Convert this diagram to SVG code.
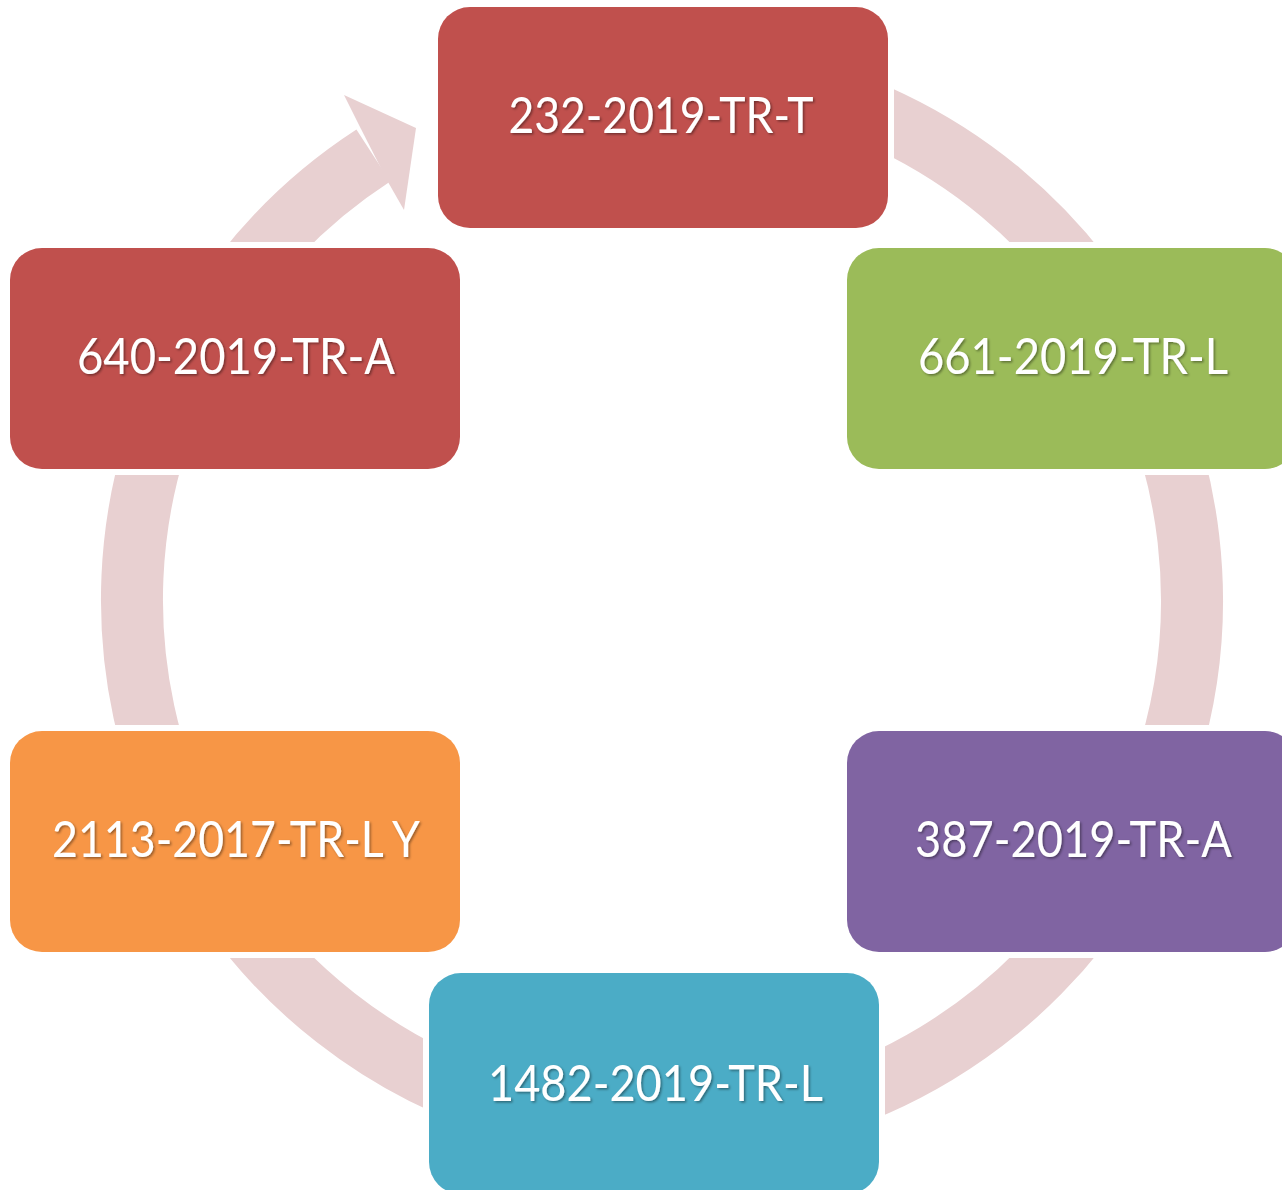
<svg xmlns="http://www.w3.org/2000/svg" width="1282" height="1190" viewBox="0 0 1282 1190">
<style>
.ring{fill:none;stroke:#E8D0D1;stroke-width:62;stroke-linecap:butt}
.head{fill:#E8D0D1}
.box{stroke:#FFFFFF;stroke-width:12;paint-order:stroke}
.lbl{font-family:Lato,"Open Sans","Liberation Sans",sans-serif;font-size:50px;fill:#FFFFFF;text-anchor:middle;filter:url(#sh)}
</style>
<defs>
<filter id="sh" x="-10%" y="-30%" width="120%" height="160%">
<feDropShadow dx="1.5" dy="1.5" stdDeviation="1" flood-color="#000000" flood-opacity="0.4"/>
</filter>
</defs>
<rect width="1282" height="1190" fill="#FFFFFF"/>
<g id="connectors">
<path class="ring" d="M662,70 A530,530 0 1 1 373.3,155.5"/>
<polygon class="head" points="344,95 416,128 404,210 388,182 359,125"/>
</g>
<g id="n1">
<rect class="box" x="438" y="7" width="450" height="221" rx="32" fill="#C0504D"/>
<text class="lbl" x="661" y="133" textLength="305" lengthAdjust="spacingAndGlyphs">232-2019-TR-T</text>
</g>
<g id="n2">
<rect class="box" x="847" y="248" width="450" height="221" rx="32" fill="#9BBB59"/>
<text class="lbl" x="1073" y="374" textLength="310" lengthAdjust="spacingAndGlyphs">661-2019-TR-L</text>
</g>
<g id="n3">
<rect class="box" x="847" y="731" width="450" height="221" rx="32" fill="#8064A2"/>
<text class="lbl" x="1073.5" y="857" textLength="317" lengthAdjust="spacingAndGlyphs">387-2019-TR-A</text>
</g>
<g id="n4">
<rect class="box" x="429" y="973" width="450" height="221" rx="32" fill="#4BACC6"/>
<text class="lbl" x="655.5" y="1101" textLength="335" lengthAdjust="spacingAndGlyphs">1482-2019-TR-L</text>
</g>
<g id="n5">
<rect class="box" x="10" y="731" width="450" height="221" rx="32" fill="#F79646"/>
<text class="lbl" x="236" y="857" textLength="368" lengthAdjust="spacingAndGlyphs">2113-2017-TR-L Y</text>
</g>
<g id="n6">
<rect class="box" x="10" y="248" width="450" height="221" rx="32" fill="#C0504D"/>
<text class="lbl" x="236" y="374" textLength="318" lengthAdjust="spacingAndGlyphs">640-2019-TR-A</text>
</g>
</svg>
